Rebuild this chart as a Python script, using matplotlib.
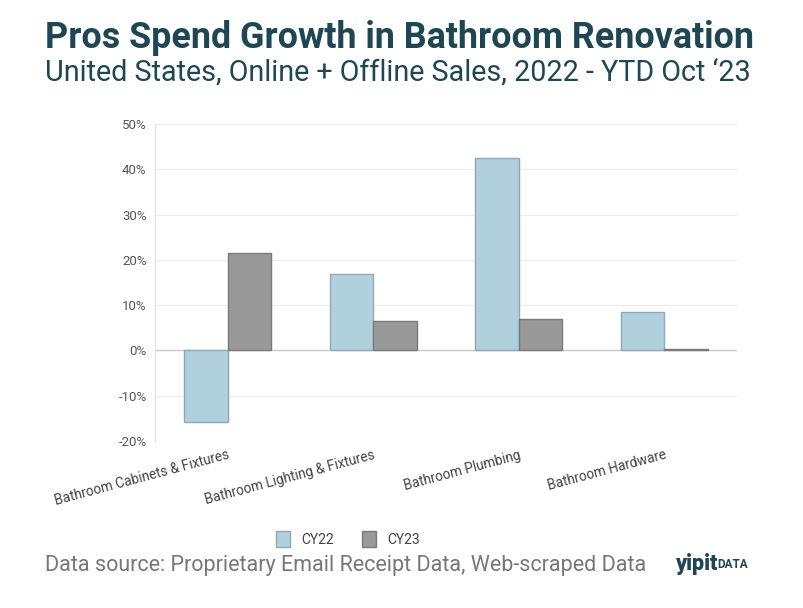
import numpy as np
import matplotlib.pyplot as plt
from matplotlib.patches import Patch

plt.rcParams['font.family'] = ['Roboto', 'DejaVu Sans']

categories = ['Bathroom Cabinets & Fixtures', 'Bathroom Lighting & Fixtures',
              'Bathroom Plumbing', 'Bathroom Hardware']
cy22 = [-15.9, 16.8, 42.5, 8.5]
cy23 = [21.5, 6.4, 6.9, 0.3]
series_names = ['CY22', 'CY23']
yticks = [-20, -10, 0, 10, 20, 30, 40, 50]

c22, e22 = '#afd0dc', '#8fa8b2'
c23, e23 = '#999999', '#7a7a7a'
teal = '#1f4753'

fig = plt.figure(figsize=(8.04, 6.08), dpi=100)
ax = fig.add_axes([155/804, 1 - 441/608, (737-155)/804, (441-124)/608])

x = np.arange(len(categories))
w = 0.3
ax.bar(x - w/2, cy22, w, color=c22, edgecolor=e22, linewidth=1, zorder=3)
ax.bar(x + w/2, cy23, w, color=c23, edgecolor=e23, linewidth=1, zorder=3)

ax.set_xlim(-0.5, len(categories) - 0.5)
ax.set_ylim(-20, 50)
ax.set_yticks(yticks)
ax.set_yticklabels([f'{v}%' for v in yticks], fontsize=9.5, color='#555555')
ax.set_xticks(x)
ax.set_xticklabels(categories, rotation=15, ha='right', rotation_mode='anchor',
                   fontsize=9.8, color='#444444')
ax.tick_params(axis='both', length=0, pad=6)
ax.tick_params(axis='x', pad=5)
ax.grid(axis='y', color='#ececec', linewidth=0.8, zorder=0)
ax.axhline(0, color='#cccccc', linewidth=1, zorder=2)
for s in ['top', 'right', 'bottom']:
    ax.spines[s].set_visible(False)
ax.spines['left'].set_color('#e0e0e0')

fig.text(45/804, 1 - 38/608, 'Pros Spend Growth in Bathroom Renovation',
         fontsize=25.8, fontweight='bold', color=teal, va='center')
fig.text(45/804, 1 - 73/608, 'United States, Online + Offline Sales, 2022 - YTD Oct \u201823',
         fontsize=20.7, color=teal, va='center')

handles = [Patch(facecolor=c22, edgecolor=e22, label=series_names[0]),
           Patch(facecolor=c23, edgecolor=e23, label=series_names[1])]
fig.legend(handles=handles, loc='center', bbox_to_anchor=(348/804, 1 - 539/608), ncol=2,
           frameon=False, fontsize=10, labelcolor='#444444', handlelength=1.0,
           handleheight=1.3, columnspacing=2.0)

fig.text(45/804, 1 - 565/608, 'Data source: Proprietary Email Receipt Data, Web-scraped Data',
         fontsize=15.5, color='#777777', va='center')
fig.text(676/804, 1 - 564/608, 'yipit', fontsize=15.5, fontweight='heavy', color=teal, va='center')
fig.text(717/804, 1 - 565/608, 'DATA', fontsize=8.5, fontweight='bold', color=teal, va='center')

fig.savefig('out.png', dpi=100)
